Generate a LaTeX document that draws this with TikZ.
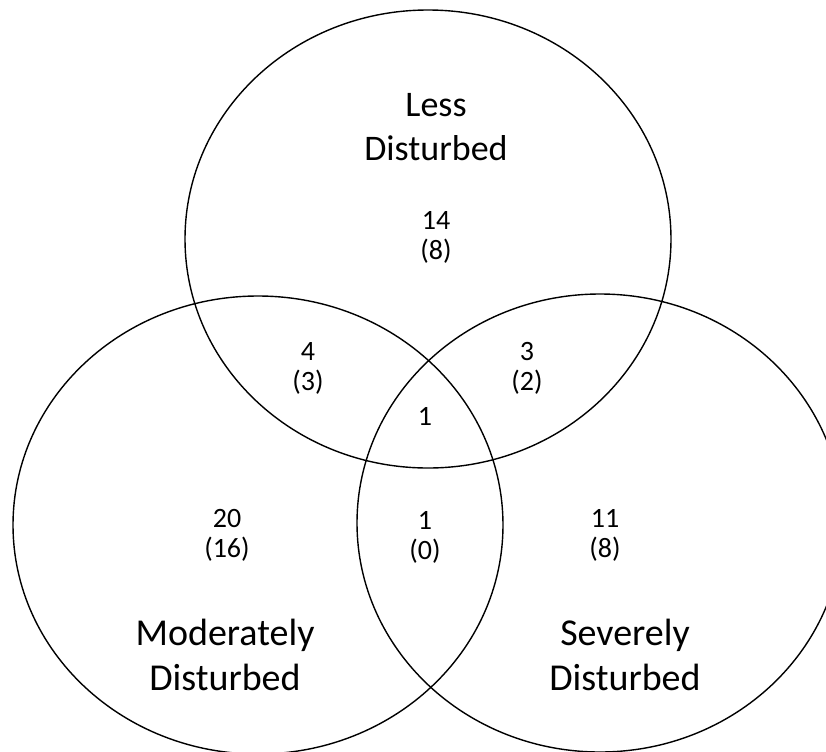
\documentclass[tikz,border=0pt]{standalone}
\usepackage{fontspec}
\setmainfont{Carlito}
\begin{document}
\begin{tikzpicture}[x=0.5pt,y=-0.5pt]
	\tikzstyle{set} = [draw,line width=0.7pt]
	\tikzstyle{count} = [align=center,inner sep=0pt,font=\fontsize{14}{15}\selectfont]
	\tikzstyle{setname} = [align=center,inner sep=0pt,font=\fontsize{18}{22}\selectfont]
	\tikzstyle{bigname} = [align=center,inner sep=0pt,font=\fontsize{19}{22.5}\selectfont]
	
	\useasboundingbox (0,0) rectangle (826,751);
	\clip (0,0) rectangle (826,751);
	
	% the three sets
	\draw[set] (428,239) ellipse [x radius=243,y radius=229];
	\draw[set] (258,525) ellipse [x radius=245,y radius=229];
	\draw[set] (600,523) ellipse [x radius=243,y radius=229];
	
	% names
	\node[setname] (less) at (436,127) {Less\\Disturbed};
	\node[bigname] (moderate) at (225,655) {Moderately\\Disturbed};
	\node[bigname] (severe) at (625,655) {Severely\\Disturbed};
	
	% counts
	\node[count] (onlyless) at (436,237) {14\\(8)};
	\node[count] (lessmod) at (308,368) {4\\(3)};
	\node[count] (lesssev) at (527,368) {3\\(2)};
	\node[count] (all) at (425,416) {1};
	\node[count] (onlymod) at (227,535) {20\\(16)};
	\node[count] (modsev) at (425,537) {1\\(0)};
	\node[count] (onlysev) at (605,535) {11\\(8)};
\end{tikzpicture}
\end{document}
